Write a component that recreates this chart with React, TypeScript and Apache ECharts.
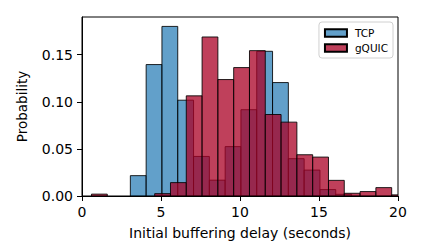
import React, { useEffect, useRef } from "react";
import * as echarts from "echarts";

// Histogram bins: left edges, right edges (1-second bins) and probabilities
const tcpLeft = [3.06, 4.06, 5.06, 6.06, 7.06, 8.06, 9.06, 10.06, 11.06, 12.06, 13.06, 14.06, 15.06, 16.06];
const tcpRight = [4.06, 5.06, 6.06, 7.06, 8.06, 9.06, 10.06, 11.06, 12.06, 13.06, 14.06, 15.06, 16.06, 17.06];
const tcpValues = [0.0216, 0.1395, 0.18, 0.1017, 0.042, 0.0168, 0.0524, 0.0916, 0.1536, 0.1204, 0.0396, 0.0275, 0.0068, 0.0018];

const quicLeft = [0.6, 4.6, 5.6, 6.6, 7.6, 8.6, 9.6, 10.6, 11.6, 12.6, 13.6, 14.6, 15.6, 16.6, 17.6, 18.6, 19.6];
const quicRight = [1.6, 5.6, 6.6, 7.6, 8.6, 9.6, 10.6, 11.6, 12.6, 13.6, 14.6, 15.6, 16.6, 17.6, 18.6, 19.6, 20.6];
const quicValues = [0.002, 0.0025, 0.0142, 0.1063, 0.1688, 0.1236, 0.1363, 0.1543, 0.0865, 0.0784, 0.0438, 0.0413, 0.0166, 0.0029, 0.0047, 0.0089, 0.0012];

const seriesNames = ["TCP", "gQUIC"];
const xTicks = [0, 5, 10, 15, 20];
const yTicks = [0, 0.05, 0.1, 0.15];

const FONT = "DejaVu Sans";

function makeData(left: number[], right: number[], vals: number[]) {
  return vals.map((v, i) => [left[i], right[i], v]);
}

function renderBar(fill: string, stroke: string) {
  return (params: any, api: any) => {
    const p0 = api.coord([api.value(0), api.value(2)]);
    const p1 = api.coord([api.value(1), 0]);
    const cs = params.coordSys;
    return {
      type: "rect",
      shape: { x: p0[0], y: p0[1], width: p1[0] - p0[0], height: p1[1] - p0[1] },
      style: { fill, stroke, lineWidth: 1 },
      clipPath: { type: "rect", shape: { x: cs.x, y: cs.y - 2, width: cs.width, height: cs.height + 2 } },
    };
  };
}

export default function App() {
  const ref = useRef<HTMLDivElement>(null);
  useEffect(() => {
    if (!ref.current) return;
    const chart = echarts.init(ref.current, undefined, { renderer: "svg" });
    const tcpFill = "rgba(31,119,180,0.7)";
    const quicFill = "rgba(170,0,36,0.75)";
    chart.setOption({
      animation: false,
      grid: { left: 82, right: 24, top: 17, bottom: 56, show: true, borderColor: "#000", borderWidth: 1, backgroundColor: "transparent" },
      legend: {
        data: seriesNames,
        orient: "vertical",
        right: 29,
        top: 22,
        padding: [5, 5, 4, 5],
        itemWidth: 22,
        itemHeight: 7.5,
        itemGap: 3,
        icon: "rect",
        borderColor: "#d0d0d0",
        borderWidth: 1,
        borderRadius: 3,
        backgroundColor: "rgba(255,255,255,0.8)",
        textStyle: { fontFamily: FONT, fontSize: 10.5, color: "#000", padding: [0, 0, 0, 3], lineHeight: 12 },
      },
      xAxis: {
        type: "value",
        min: 0,
        max: 20,
        interval: 5,
        name: "Initial buffering delay (seconds)",
        nameLocation: "middle",
        nameGap: 30,
        nameTextStyle: { fontFamily: FONT, fontSize: 14, color: "#000" },
        axisLine: { show: true, lineStyle: { color: "#000", width: 1 } },
        axisTick: { show: true, inside: false, length: 5, lineStyle: { color: "#000" }, customValues: xTicks },
        axisLabel: { fontFamily: FONT, fontSize: 14, color: "#000", margin: 9, customValues: xTicks },
        splitLine: { show: false },
      },
      yAxis: {
        type: "value",
        min: 0,
        max: 0.19,
        interval: 0.05,
        name: "Probability",
        nameLocation: "middle",
        nameGap: 53,
        nameTextStyle: { fontFamily: FONT, fontSize: 13.5, color: "#000" },
        axisLine: { show: true, lineStyle: { color: "#000", width: 1 } },
        axisTick: { show: true, inside: false, length: 5, lineStyle: { color: "#000" }, customValues: yTicks },
        axisLabel: {
          fontFamily: FONT,
          fontSize: 14,
          color: "#000",
          margin: 9,
          customValues: yTicks,
          formatter: (v: number) => v.toFixed(2),
        },
        splitLine: { show: false },
      },
      series: [
        {
          name: seriesNames[0],
          type: "custom",
          renderItem: renderBar(tcpFill, "rgba(0,0,0,0.85)"),
          encode: { x: [0, 1], y: 2 },
          itemStyle: { color: tcpFill, borderColor: "#000", borderWidth: 1 },
          data: makeData(tcpLeft, tcpRight, tcpValues),
          z: 2,
        },
        {
          name: seriesNames[1],
          type: "custom",
          renderItem: renderBar(quicFill, "rgba(0,0,0,0.85)"),
          encode: { x: [0, 1], y: 2 },
          itemStyle: { color: quicFill, borderColor: "#000", borderWidth: 1 },
          data: makeData(quicLeft, quicRight, quicValues),
          z: 3,
        },
      ],
    });
    return () => chart.dispose();
  }, []);
  return <div ref={ref} style={{ position: "absolute", left: 0, top: 0, width: 422, height: 252 }} />;
}
